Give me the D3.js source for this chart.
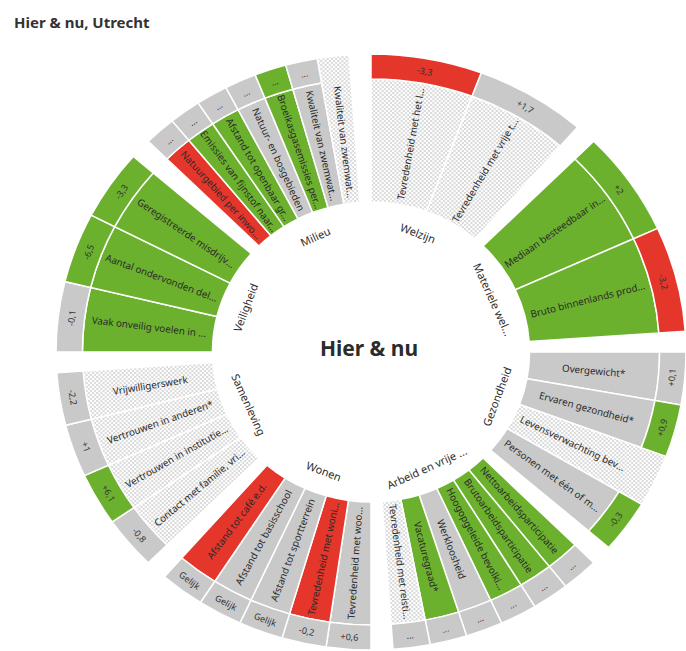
<!DOCTYPE html>
<html>
<head>
<meta charset="utf-8">
<script src="https://cdn.jsdelivr.net/npm/d3@7"></script>
<style>
  body { margin: 0; background: #fff; }
  svg { display: block; }
  text { font-family: "Noto Sans", "Open Sans", sans-serif; }
</style>
</head>
<body>
<svg id="chart" width="686" height="651"></svg>
<script>
// ---------- DATA ----------
const title = "Hier & nu, Utrecht";
const centerLabel = "Hier & nu";
const categories = ["Welzijn", "Materiele wel...", "Gezondheid", "Arbeid en vrije ...", "Wonen", "Samenleving", "Veiligheid", "Milieu"];

// indicators listed clockwise, with category index
const indicatorNames = [
  "Tevredenheid met het l...", "Tevredenheid met vrije t...",
  "Mediaan besteedbaar in...", "Bruto binnenlands prod...",
  "Overgewicht*", "Ervaren gezondheid*", "Levensverwachting bev...", "Personen met één of m...",
  "Nettoarbeidsparticipatie", "Brutoarbeidsparticipatie", "Hoogopgeleide bevolki...", "Werkloosheid", "Vacaturegraad*", "Tevredenheid met reisti...",
  "Tevredenheid met woo...", "Tevredenheid met woni...", "Afstand tot sportterrein", "Afstand tot basisschool", "Afstand tot café e.d.",
  "Contact met familie, vri...", "Vertrouwen in institutie...", "Vertrouwen in anderen*", "Vrijwilligerswerk",
  "Vaak onveilig voelen in ...", "Aantal ondervonden del...", "Geregistreerde misdrijv...",
  "Natuurgebied per inwo...", "Emissies van fijnstof naar...", "Afstand tot openbaar gr...", "Natuur- en bosgebieden", "Broeikasgasemissies per...", "Kwaliteit van zwemwat...", "Kwaliteit van zwemwat..."
];
const indicatorCategory = [
  0, 0,
  1, 1,
  2, 2, 2, 2,
  3, 3, 3, 3, 3, 3,
  4, 4, 4, 4, 4,
  5, 5, 5, 5,
  6, 6, 6,
  7, 7, 7, 7, 7, 7, 7
];
// status of the indicator (inner wedge): green / red / grey / none (no data, hatched)
const indicatorStatus = [
  "none", "none",
  "green", "green",
  "grey", "grey", "none", "grey",
  "green", "green", "green", "grey", "green", "none",
  "grey", "red", "grey", "grey", "red",
  "none", "none", "none", "none",
  "green", "green", "green",
  "red", "green", "green", "grey", "green", "grey", "none"
];
// change label (outer cell); null = no cell
const changeLabels = [
  "-3,3", "+1,7",
  "+2", "-3,2",
  "+0,1", "+0,9", null, "-0,3",
  "...", "...", "...", "...", "...", "...",
  "+0,6", "-0,2", "Gelijk", "Gelijk", "Gelijk",
  "-0,8", "+6,1", "+1", "-2,2",
  "-0,1", "-6,5", "-3,3",
  "...", "...", "...", "...", "...", "...", null
];
const changeStatus = [
  "red", "grey",
  "green", "red",
  "grey", "green", null, "green",
  "grey", "grey", "grey", "grey", "grey", "grey",
  "grey", "grey", "grey", "grey", "grey",
  "grey", "green", "grey", "grey",
  "grey", "green", "green",
  "grey", "grey", "grey", "grey", "green", "grey", null
];

// ---------- LAYOUT ----------
const cx = 371, cy = 352, sx = 1.057;
const r0 = 150, r1 = 273, r2 = 298;
const slot = 45, gap = 4, offset = -2;
const span = slot - gap;
const colors = { green: "#6cb12e", red: "#e5362b", grey: "#c9c9c9", none: "url(#checker)" };

const svg = d3.select("#chart");
const defs = svg.append("defs");
const pat = defs.append("pattern").attr("id", "checker").attr("patternUnits", "userSpaceOnUse")
  .attr("width", 4).attr("height", 4);
pat.append("rect").attr("width", 4).attr("height", 4).attr("fill", "#ffffff");
pat.append("rect").attr("width", 2).attr("height", 2).attr("fill", "#dadada");
pat.append("rect").attr("x", 2).attr("y", 2).attr("width", 2).attr("height", 2).attr("fill", "#dadada");

// count per category
const counts = categories.map((c, ci) => indicatorCategory.filter(k => k === ci).length);
const seen = categories.map(() => 0);
const items = indicatorNames.map((name, i) => {
  const c = indicatorCategory[i];
  const k = seen[c]++;
  const n = counts[c];
  const a0 = offset + gap / 2 + c * slot + k * span / n;
  const a1 = a0 + span / n;
  return { name, c, a0, a1, mid: (a0 + a1) / 2, status: indicatorStatus[i], label: changeLabels[i], cstatus: changeStatus[i] };
});

const rad = d => d * Math.PI / 180;
const pos = (r, a) => [cx + sx * r * Math.sin(rad(a)), cy - r * Math.cos(rad(a))];
const tangRot = a => { const m = ((a % 360) + 360) % 360; return (m > 90 && m < 270) ? m - 180 : (m >= 270 ? m - 360 : m); };
const radRot = a => { const m = ((a % 360) + 360) % 360; return m < 180 ? m - 90 : m - 270; };

const arc = d3.arc();
const g = svg.append("g").attr("transform", `translate(${cx},${cy}) scale(${sx},1)`);

// inner wedges
g.selectAll("path.wedge").data(items).join("path")
  .attr("class", "wedge")
  .attr("d", d => arc({ innerRadius: r0, outerRadius: d.label === null ? r2 : r1, startAngle: rad(d.a0), endAngle: rad(d.a1) }))
  .attr("fill", d => colors[d.status])
  .attr("stroke", "#fff").attr("stroke-width", 1.5).attr("vector-effect", "non-scaling-stroke");

// outer change cells
g.selectAll("path.cell").data(items.filter(d => d.label !== null)).join("path")
  .attr("class", "cell")
  .attr("d", d => arc({ innerRadius: r1, outerRadius: r2, startAngle: rad(d.a0), endAngle: rad(d.a1) }))
  .attr("fill", d => colors[d.cstatus])
  .attr("stroke", "#fff").attr("stroke-width", 1.5).attr("vector-effect", "non-scaling-stroke");

// indicator labels (radial)
const rMidLabel = (r0 + r1) / 2;
svg.selectAll("text.ind").data(items).join("text")
  .attr("class", "ind")
  .attr("transform", d => { const p = pos(rMidLabel, d.mid); return `translate(${p[0]},${p[1]}) rotate(${radRot(d.mid)})`; })
  .attr("text-anchor", "middle").attr("dominant-baseline", "central")
  .attr("font-size", 9.8).attr("fill", "#2a2a2a")
  .text(d => d.name);

// change labels (tangential)
const rMidCell = (r1 + r2) / 2;
svg.selectAll("text.chg").data(items.filter(d => d.label !== null)).join("text")
  .attr("class", "chg")
  .attr("transform", d => { const p = pos(rMidCell, d.mid); return `translate(${p[0]},${p[1]}) rotate(${tangRot(d.mid)})`; })
  .attr("text-anchor", "middle").attr("dominant-baseline", "central")
  .attr("font-size", 9).attr("fill", "#333")
  .text(d => d.label);

// category labels
const rCat = 127;
svg.selectAll("text.cat").data(categories).join("text")
  .attr("class", "cat")
  .attr("transform", (d, i) => { const a = offset + gap / 2 + i * slot + span / 2; const p = pos(rCat, a); return `translate(${p[0]},${p[1]}) rotate(${tangRot(a)})`; })
  .attr("text-anchor", "middle").attr("dominant-baseline", "central")
  .attr("font-size", 11).attr("fill", "#2e2e2e")
  .text(d => d);

// center label
svg.append("text").attr("x", 369).attr("y", cy - 4)
  .attr("text-anchor", "middle").attr("dominant-baseline", "central")
  .attr("font-size", 21).attr("font-weight", "bold").attr("fill", "#2b2b2b")
  .text(centerLabel);

// title
svg.append("text").attr("x", 14).attr("y", 28)
  .attr("font-size", 15).attr("font-weight", "bold").attr("fill", "#333")
  .text(title);
</script>
</body>
</html>
